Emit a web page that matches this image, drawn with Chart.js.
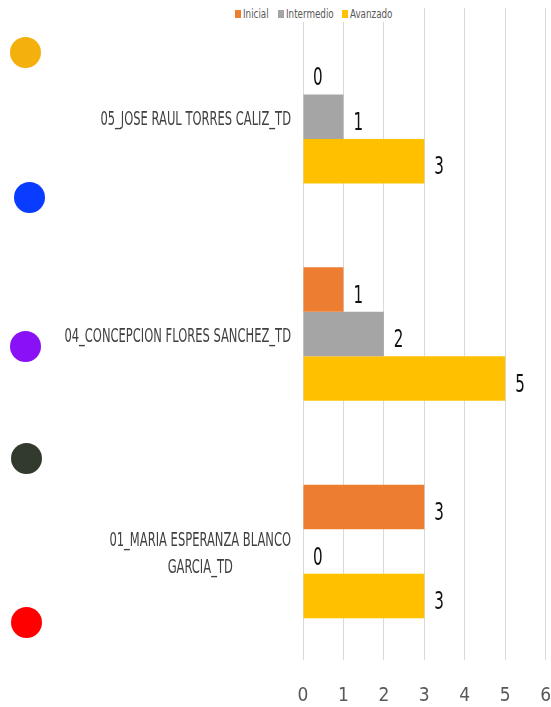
<!DOCTYPE html>
<html>
<head>
<meta charset="utf-8">
<script src="https://cdn.jsdelivr.net/npm/chart.js@4.4.1/dist/chart.umd.min.js"></script>
<style>
  html, body { margin: 0; padding: 0; background: #fff; }
  #wrap { position: relative; width: 551px; height: 707px; }
  #c { position: absolute; left: 0; top: 0; }
  .dot { position: absolute; width: 31px; height: 31px; border-radius: 50%; }
  #legend { position: absolute; left: 232px; top: 5px; width: 163px; height: 17px; background: #fff;
            font-family: "Liberation Sans Narrow", "DejaVu Sans Condensed", sans-serif; font-size: 12.5px; color: #595959; }
  .sw { position: absolute; top: 5px; width: 6px; height: 8px; }
  .lt { position: absolute; top: 0; height: 17px; line-height: 17px; white-space: nowrap;
        transform: scaleX(0.78); transform-origin: 0 50%; }
</style>
</head>
<body>
<div id="wrap">
  <canvas id="c" width="551" height="707"></canvas>
  <div class="dot" style="left:10px;top:37px;background:#F4B00C"></div>
  <div class="dot" style="left:14px;top:182px;background:#0A3CFF"></div>
  <div class="dot" style="left:10px;top:331px;background:#8A10F5"></div>
  <div class="dot" style="left:11px;top:443px;background:#323A2E"></div>
  <div class="dot" style="left:11px;top:607px;background:#FF0000"></div>
  <div id="legend"></div>
</div>
<script>
const categories = [
  ["05_JOSE RAUL TORRES CALIZ_TD"],
  ["04_CONCEPCION FLORES SANCHEZ_TD"],
  ["01_MARIA ESPERANZA BLANCO", "GARCIA_TD"]
];
const seriesNames = ["Inicial", "Intermedio", "Avanzado"];
const seriesColors = ["#ED7D31", "#A5A5A5", "#FFC000"];
const inicial = [0, 1, 3];
const intermedio = [1, 2, 0];
const avanzado = [3, 5, 3];
const xTicks = [0, 1, 2, 3, 4, 5, 6];

const FONT = '"Liberation Sans Narrow", "DejaVu Sans Condensed", sans-serif';

// HTML legend
const legendPos = [3, 46, 110];
const lg = document.getElementById('legend');
seriesNames.forEach((n, i) => {
  const sw = document.createElement('div');
  sw.className = 'sw';
  sw.style.left = legendPos[i] + 'px';
  sw.style.background = seriesColors[i];
  lg.appendChild(sw);
  const t = document.createElement('div');
  t.className = 'lt';
  t.style.left = (legendPos[i] + 8) + 'px';
  t.textContent = n;
  lg.appendChild(t);
});

function condensedText(ctx, text, x, y, sx) {
  ctx.save();
  ctx.translate(x, y);
  ctx.scale(sx, 1);
  ctx.fillText(text, 0, 0);
  ctx.restore();
}

const valueLabels = {
  id: 'valueLabels',
  afterDatasetsDraw(chart) {
    const ctx = chart.ctx;
    ctx.save();
    ctx.font = '24px ' + FONT;
    ctx.fillStyle = '#111';
    ctx.textAlign = 'left';
    ctx.textBaseline = 'middle';
    chart.data.datasets.forEach((ds, di) => {
      const meta = chart.getDatasetMeta(di);
      meta.data.forEach((el, i) => {
        condensedText(ctx, String(ds.data[i]), el.x + 10, el.y + 7, 0.7);
      });
    });
    ctx.restore();
  }
};

const catLabels = {
  id: 'catLabels',
  afterDraw(chart) {
    const ctx = chart.ctx;
    const ys = chart.scales.y;
    const sx = 0.64;
    const right = chart.chartArea.left - 12;
    const lh = 27;
    ctx.save();
    ctx.font = '20px ' + FONT;
    ctx.fillStyle = '#404040';
    ctx.textBaseline = 'middle';
    ctx.textAlign = 'center';
    categories.forEach((lines, i) => {
      const cy = ys.getPixelForValue(i) + 3;
      const w = Math.max(...lines.map(l => ctx.measureText(l).width)) * sx;
      const cx = right - w / 2;
      const y0 = cy - (lines.length - 1) * lh / 2;
      lines.forEach((l, k) => condensedText(ctx, l, cx, y0 + k * lh, sx));
    });
    ctx.restore();
  }
};

new Chart(document.getElementById('c'), {
  type: 'bar',
  data: {
    labels: categories.map(c => c.join(' ')),
    datasets: [
      { label: seriesNames[0], data: inicial, backgroundColor: seriesColors[0] },
      { label: seriesNames[1], data: intermedio, backgroundColor: seriesColors[1] },
      { label: seriesNames[2], data: avanzado, backgroundColor: seriesColors[2] }
    ]
  },
  options: {
    indexAxis: 'y',
    responsive: false,
    animation: false,
    devicePixelRatio: 1,
    categoryPercentage: 0.614,
    barPercentage: 1,
    layout: { padding: { left: 303, right: 5, top: 8, bottom: 0 } },
    plugins: { legend: { display: false }, tooltip: { enabled: false } },
    scales: {
      x: {
        min: 0, max: 6,
        afterBuildTicks(s) { s.ticks = xTicks.map(v => ({ value: v })); },
        grid: { color: '#D9D9D9', lineWidth: 1, drawTicks: true, tickLength: 24, tickColor: 'rgba(0,0,0,0)' },
        border: { display: false },
        ticks: { font: { family: FONT, size: 19 }, color: '#595959', padding: 0 }
      },
      y: {
        display: false
      }
    }
  },
  plugins: [valueLabels, catLabels]
});
</script>
</body>
</html>
